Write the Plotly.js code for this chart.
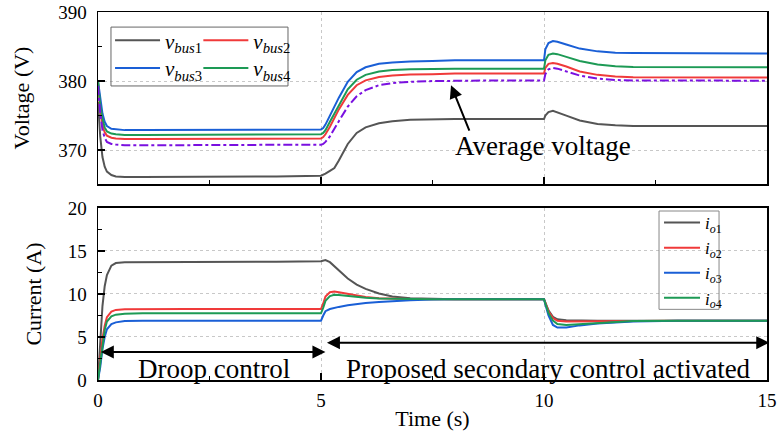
<!DOCTYPE html>
<html>
<head>
<meta charset="utf-8">
<script src="https://cdn.plot.ly/plotly-3.0.1.min.js"></script>
<style>html,body{margin:0;padding:0;background:#fff;}#chart{width:777px;height:443px;}</style>
</head>
<body>
<div id="chart"></div>
<script>
// Time samples (s)
const T = [0, 0.05, 0.1, 0.15, 0.2, 0.3, 0.4, 0.6, 1, 2, 3, 4, 5, 5.05, 5.1, 5.2, 5.3, 5.4, 5.6, 5.8, 6.0, 6.3, 6.6, 7.0, 7.5, 8, 9, 10, 10.03, 10.1, 10.2, 10.3, 10.5, 10.8, 11.2, 11.6, 12, 13, 14, 15];

// Bus voltages (V)
const vbus1 = [377, 372, 369, 367.6, 366.9, 366.4, 366.2, 366.1, 366.1, 366.1, 366.2, 366.2, 366.3, 366.4, 366.6, 367.0, 367.4, 368.5, 370.9, 372.5, 373.3, 373.9, 374.2, 374.4, 374.5, 374.5, 374.5, 374.5, 375.0, 375.5, 375.7, 375.5, 375.0, 374.3, 373.8, 373.6, 373.5, 373.5, 373.5, 373.5];
const vbus2 = [380, 375.8, 373.6, 372.6, 372.1, 371.8, 371.7, 371.6, 371.6, 371.6, 371.7, 371.7, 371.7, 371.9, 372.3, 373.4, 374.6, 375.9, 378.0, 379.4, 380.1, 380.6, 380.8, 380.95, 381.0, 381.1, 381.1, 381.1, 381.9, 382.5, 382.6, 382.5, 382.1, 381.4, 380.9, 380.65, 380.55, 380.5, 380.5, 380.5];
const vbus3 = [380, 377.5, 375.3, 374.1, 373.5, 373.1, 373.0, 372.9, 372.9, 372.9, 373.0, 373.0, 373.0, 373.2, 373.7, 375.0, 376.3, 377.6, 379.9, 381.3, 382.0, 382.5, 382.7, 382.85, 382.9, 383.0, 383.0, 383.0, 384.6, 385.5, 385.8, 385.7, 385.3, 384.7, 384.3, 384.1, 384.05, 384.0, 384.0, 384.0];
const vbus4 = [380, 376.5, 374.5, 373.3, 372.7, 372.4, 372.3, 372.2, 372.2, 372.2, 372.3, 372.3, 372.3, 372.5, 372.9, 374.1, 375.3, 376.6, 378.8, 380.2, 380.9, 381.4, 381.6, 381.7, 381.8, 381.8, 381.8, 381.8, 383.0, 383.8, 384.0, 383.9, 383.5, 382.9, 382.4, 382.15, 382.05, 382.0, 382.0, 382.0];
const vavg  = [379.3, 375.4, 372.9, 371.8, 371.2, 370.9, 370.8, 370.7, 370.7, 370.7, 370.8, 370.8, 370.8, 370.9, 371.2, 372.0, 373.0, 374.2, 376.3, 377.8, 378.7, 379.4, 379.7, 379.9, 380.0, 380.05, 380.1, 380.1, 381.0, 381.7, 381.9, 381.8, 381.4, 380.8, 380.35, 380.15, 380.1, 380.05, 380.05, 380.05];

// Output currents (A)
const io1 = [0, 5, 8.6, 10.9, 12.2, 13.3, 13.6, 13.7, 13.7, 13.7, 13.7, 13.75, 13.8, 13.9, 13.95, 13.7, 13.2, 12.7, 11.8, 11.1, 10.6, 10.05, 9.7, 9.5, 9.42, 9.4, 9.4, 9.4, 9.0, 8.1, 7.35, 7.05, 6.95, 6.9, 6.9, 6.9, 6.9, 6.9, 6.9, 6.9];
const io2 = [0, 2.5, 4.8, 6.3, 7.3, 7.95, 8.15, 8.22, 8.25, 8.25, 8.25, 8.25, 8.25, 8.9, 9.7, 10.2, 10.3, 10.2, 10.0, 9.8, 9.65, 9.52, 9.46, 9.42, 9.4, 9.4, 9.4, 9.4, 9.0, 8.0, 7.2, 6.9, 6.8, 6.82, 6.86, 6.88, 6.9, 6.9, 6.9, 6.9];
const io3 = [0, 1.5, 3.6, 5.0, 5.9, 6.5, 6.7, 6.85, 6.9, 6.9, 6.9, 6.9, 6.9, 7.5, 8.0, 8.25, 8.4, 8.5, 8.7, 8.85, 8.95, 9.08, 9.18, 9.28, 9.35, 9.4, 9.4, 9.4, 8.8, 7.5, 6.4, 6.1, 6.1, 6.35, 6.58, 6.72, 6.8, 6.88, 6.9, 6.9];
const io4 = [0, 2.0, 4.3, 5.8, 6.8, 7.4, 7.6, 7.7, 7.75, 7.75, 7.75, 7.75, 7.75, 8.4, 9.2, 9.75, 9.9, 9.88, 9.75, 9.62, 9.55, 9.48, 9.44, 9.42, 9.4, 9.4, 9.4, 9.4, 8.9, 7.8, 6.9, 6.5, 6.4, 6.5, 6.65, 6.78, 6.85, 6.9, 6.9, 6.9];

const vNames = ['<i>v</i><sub><i>bus</i>1</sub>', '<i>v</i><sub><i>bus</i>2</sub>', '<i>v</i><sub><i>bus</i>3</sub>', '<i>v</i><sub><i>bus</i>4</sub>'];
const iNames = ['<i>i</i><sub><i>o</i>1</sub>', '<i>i</i><sub><i>o</i>2</sub>', '<i>i</i><sub><i>o</i>3</sub>', '<i>i</i><sub><i>o</i>4</sub>'];
const avgLabel = 'Average voltage';
const droopLabel = 'Droop control';
const secLabel = 'Proposed secondary control activated';

const C = {gray: '#555555', red: '#f03a3a', blue: '#1a5fd6', green: '#1d9a55', purple: '#7a10e0'};
const FONT = 'Liberation Serif';

const traces = [
  {x: T, y: vbus1, name: vNames[0], legend: 'legend',  line: {color: C.gray, width: 2}},
  {x: T, y: vbus2, name: vNames[1], legend: 'legend2', line: {color: C.red, width: 2}},
  {x: T, y: vbus3, name: vNames[2], legend: 'legend3', line: {color: C.blue, width: 2}},
  {x: T, y: vbus4, name: vNames[3], legend: 'legend4', line: {color: C.green, width: 2}},
  {x: T, y: vavg, name: 'Average', showlegend: false, line: {color: C.purple, width: 2, dash: 'dashdot'}},
  {x: T, y: io1, name: iNames[0], xaxis: 'x2', yaxis: 'y2', legend: 'legend5', line: {color: C.gray, width: 2}},
  {x: T, y: io2, name: iNames[1], xaxis: 'x2', yaxis: 'y2', legend: 'legend5', line: {color: C.red, width: 2}},
  {x: T, y: io3, name: iNames[2], xaxis: 'x2', yaxis: 'y2', legend: 'legend5', line: {color: C.blue, width: 2}},
  {x: T, y: io4, name: iNames[3], xaxis: 'x2', yaxis: 'y2', legend: 'legend5', line: {color: C.green, width: 2}}
].map(t => Object.assign({type: 'scatter', mode: 'lines'}, t));

const axCommon = {
  showline: true, linecolor: '#000', linewidth: 1.5, mirror: true,
  ticks: 'inside', ticklen: 7, tickwidth: 1.5, tickcolor: '#000',
  showgrid: true, gridcolor: '#c8c8c8', griddash: 'dot', gridwidth: 1,
  zeroline: false,
  tickfont: {family: FONT, size: 19, color: '#000'},
  minor: {ticks: 'inside', ticklen: 4, tickwidth: 1.5, tickcolor: '#000', showgrid: false}
};

const legCommon = {
  font: {family: FONT, size: 21, color: '#000'},
  bgcolor: 'rgba(0,0,0,0)', borderwidth: 0,
  xanchor: 'left', yanchor: 'middle', itemwidth: 45
};

const layout = {
  width: 777, height: 443,
  margin: {l: 98, r: 10, t: 12, b: 63},
  paper_bgcolor: '#fff', plot_bgcolor: '#fff',
  font: {family: FONT, color: '#000'},
  xaxis: Object.assign({}, axCommon, {domain: [0, 1], range: [0, 15], dtick: 5, anchor: 'y', showticklabels: false,
    minor: Object.assign({}, axCommon.minor, {dtick: 2.5})}),
  yaxis: Object.assign({}, axCommon, {domain: [0.5326, 1], range: [365.1, 390], dtick: 10, anchor: 'x',
    ticklabelstandoff: 6,
    minor: Object.assign({}, axCommon.minor, {dtick: 5}),
    title: {text: 'Voltage (V)', font: {family: FONT, size: 22}, standoff: 22}}),
  xaxis2: Object.assign({}, axCommon, {domain: [0, 1], range: [0, 15], dtick: 5, anchor: 'y2',
    ticklabelstandoff: 3,
    minor: Object.assign({}, axCommon.minor, {dtick: 2.5}),
    title: {text: 'Time (s)', font: {family: FONT, size: 22}, standoff: 0}}),
  yaxis2: Object.assign({}, axCommon, {domain: [0, 0.4674], range: [0, 20], dtick: 5, anchor: 'x2',
    ticklabelstandoff: 6,
    minor: Object.assign({}, axCommon.minor, {dtick: 2.5}),
    title: {text: 'Current (A)', font: {family: FONT, size: 22}, standoff: 20}}),
  legend:  Object.assign({}, legCommon, {x: 0.018, y: 0.922}),
  legend2: Object.assign({}, legCommon, {x: 0.150, y: 0.922}),
  legend3: Object.assign({}, legCommon, {x: 0.018, y: 0.847}),
  legend4: Object.assign({}, legCommon, {x: 0.150, y: 0.847}),
  legend5: {font: {family: FONT, size: 17, color: '#000'}, bgcolor: 'rgba(0,0,0,0)', borderwidth: 0,
    xanchor: 'left', yanchor: 'top', x: 0.8386, y: 0.4755, itemwidth: 36},
  shapes: [
    {type: 'rect', xref: 'paper', yref: 'paper', x0: 0.0194, x1: 0.284, y0: 0.799, y1: 0.959,
     line: {color: '#666', width: 1}, fillcolor: 'rgba(0,0,0,0)', layer: 'above'},
    {type: 'rect', xref: 'paper', yref: 'paper', x0: 0.8386, x1: 0.9283, y0: 0.192, y1: 0.4592,
     line: {color: '#888', width: 1}, fillcolor: 'rgba(0,0,0,0)', layer: 'above'}
  ],
  annotations: [
    {xref: 'x', yref: 'y', x: 9.98, y: 370.6, text: avgLabel, showarrow: false,
     font: {family: FONT, size: 27, color: '#000'}},
    {xref: 'x', yref: 'y', axref: 'x', ayref: 'y', x: 7.915, y: 379.4, ax: 8.34, ay: 372.6, text: '',
     showarrow: true, arrowhead: 2, arrowsize: 1.3, arrowwidth: 2, arrowcolor: '#000'},
    {xref: 'x2', yref: 'y2', axref: 'x2', ayref: 'y2', x: 5.1, y: 3.25, ax: 0.03, ay: 3.25, text: '',
     showarrow: true, arrowhead: 2, arrowside: 'end+start', arrowsize: 1.3, arrowwidth: 2, arrowcolor: '#000'},
    {xref: 'x2', yref: 'y2', axref: 'x2', ayref: 'y2', x: 15.05, y: 4.34, ax: 5.1, ay: 4.34, text: '',
     showarrow: true, arrowhead: 2, arrowside: 'end+start', arrowsize: 1.3, arrowwidth: 2, arrowcolor: '#000'},
    {xref: 'x2', yref: 'y2', x: 2.6, y: 1.3, text: droopLabel, showarrow: false,
     font: {family: FONT, size: 27, color: '#000'}},
    {xref: 'x2', yref: 'y2', x: 10.11, y: 1.3, text: secLabel, showarrow: false,
     font: {family: FONT, size: 27, color: '#000'}}
  ]
};

Plotly.newPlot('chart', traces, layout, {displayModeBar: false, staticPlot: true});
</script>
</body>
</html>
